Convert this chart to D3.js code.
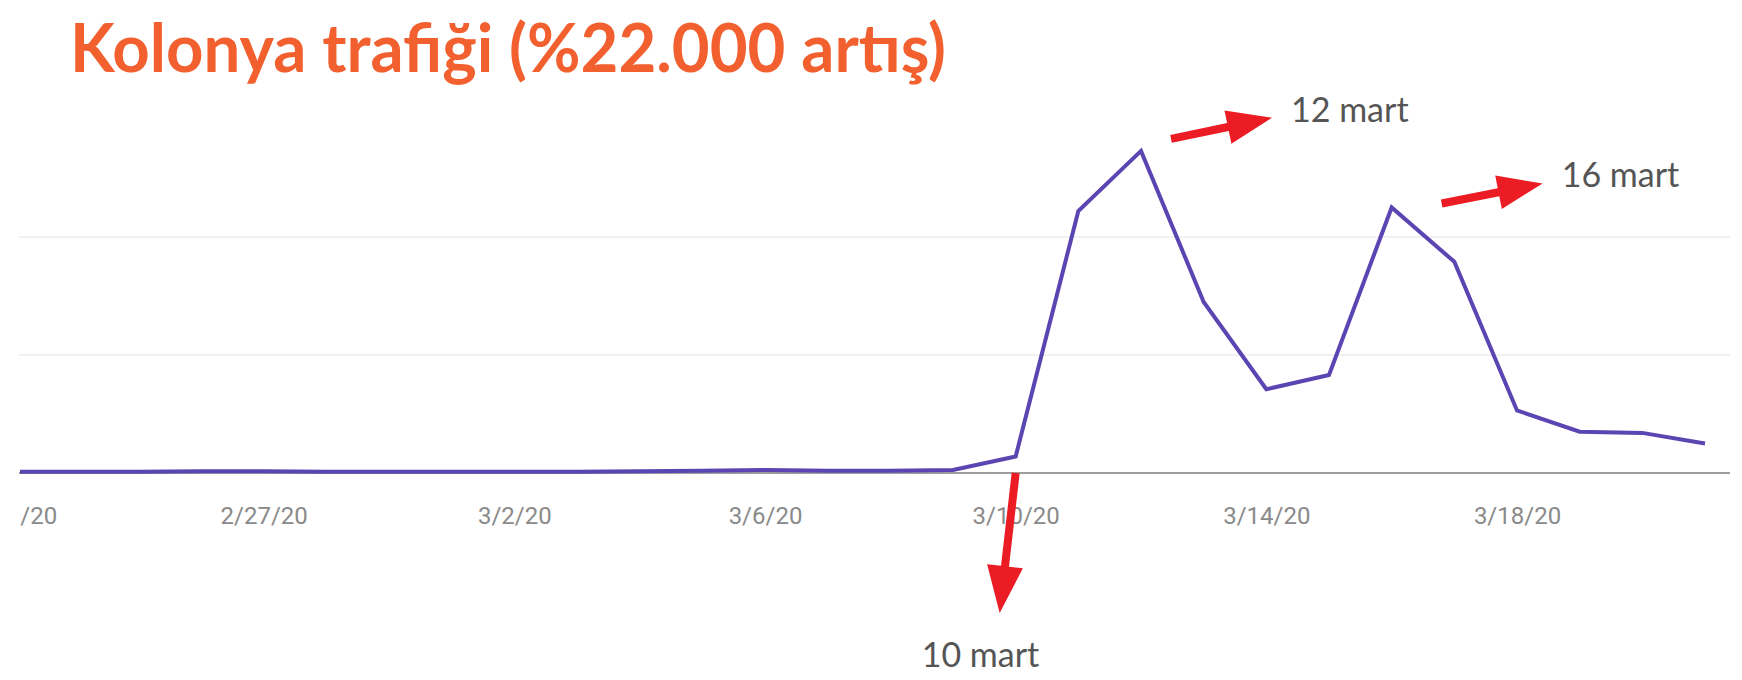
<!DOCTYPE html>
<html>
<head>
<meta charset="utf-8">
<script src="https://cdn.jsdelivr.net/npm/d3@7"></script>
<style>
  body { margin: 0; background: #fff; }
  svg { display: block; }
</style>
</head>
<body>
<svg id="chart"></svg>
<script>
// Data (index, grid step = 100)
const dates = ["2020-02-23","2020-02-24","2020-02-25","2020-02-26","2020-02-27","2020-02-28","2020-02-29",
  "2020-03-01","2020-03-02","2020-03-03","2020-03-04","2020-03-05","2020-03-06","2020-03-07","2020-03-08",
  "2020-03-09","2020-03-10","2020-03-11","2020-03-12","2020-03-13","2020-03-14","2020-03-15","2020-03-16",
  "2020-03-17","2020-03-18","2020-03-19","2020-03-20","2020-03-21"];
const traffic = [1, 1, 1, 1.5, 1.5, 1, 1, 1, 1, 1, 1.5, 2, 2.5, 2, 2, 2.5,
  14, 222, 273, 145, 71, 83, 225, 179, 53, 35, 34, 25];
const tickDates = ["2020-02-23","2020-02-27","2020-03-02","2020-03-06","2020-03-10","2020-03-14","2020-03-18"];
const gridValues = [100, 200];
const titleText = "Kolonya trafiği (%22.000 artış)";

// annotations: arrow tail/tip offsets from the data point, label next to the tip
const notes = [
  { date: "2020-03-12", label: "12 mart", tail: [30, -12], tip: [131, -33], text: [150, -29], down: false },
  { date: "2020-03-16", label: "16 mart", tail: [50, -4], tip: [151, -24], text: [170, -21], down: false },
  { date: "2020-03-10", label: "10 mart", tail: [0, 0], tip: [-16, 140], text: [-94, 194], down: true }
];

const W = 1742, H = 680;
const parse = d3.timeParse("%Y-%m-%d");
const data = dates.map((d, i) => ({ date: parse(d), value: traffic[i] }));

const svg = d3.select("#chart").attr("width", W).attr("height", H);

const plotLeft = 19, plotRight = 1730;

const x = d3.scaleTime()
    .domain([parse(dates[0]), parse(dates[dates.length - 1])])
    .range([13, 1705]);

const y = d3.scaleLinear()
    .domain([0, 300])
    .range([473, 119]);

// the original is a crop: everything left of the plot is cut away
svg.append("clipPath")
    .attr("id", "clip")
    .append("rect")
    .attr("x", plotLeft + 1)
    .attr("y", 0)
    .attr("width", plotRight - plotLeft)
    .attr("height", H);

// Title
svg.append("text")
    .attr("x", 70)
    .attr("y", 72)
    .attr("font-family", "Lato, 'Open Sans', sans-serif")
    .attr("font-weight", 700)
    .attr("font-size", 66)
    .attr("fill", "#f2602f")
    .attr("textLength", 876)
    .attr("lengthAdjust", "spacingAndGlyphs")
    .text(titleText);

// Gridlines
svg.selectAll(".grid")
    .data(gridValues)
    .enter().append("line")
    .attr("class", "grid")
    .attr("x1", plotLeft)
    .attr("x2", plotRight)
    .attr("y1", d => y(d))
    .attr("y2", d => y(d))
    .attr("stroke", "#ececec")
    .attr("stroke-width", 1.5);

// Bottom axis (labels only) + baseline
const xAxis = svg.append("g")
    .attr("clip-path", "url(#clip)")
    .append("g")
    .attr("transform", `translate(0,${y(0)})`)
    .call(d3.axisBottom(x)
        .tickValues(tickDates.map(parse))
        .tickFormat(d3.timeFormat("%-m/%-d/%y"))
        .tickSize(0)
        .tickPadding(34));
xAxis.select(".domain").remove();
xAxis.selectAll("text")
    .attr("font-family", "Roboto, sans-serif")
    .attr("font-size", 24)
    .attr("fill", "#8a8a8a");

svg.append("line")
    .attr("x1", plotLeft)
    .attr("x2", plotRight)
    .attr("y1", y(0))
    .attr("y2", y(0))
    .attr("stroke", "#9e9e9e")
    .attr("stroke-width", 2);

// Line
const line = d3.line()
    .x(d => x(d.date))
    .y(d => y(d.value));

svg.append("path")
    .datum(data)
    .attr("clip-path", "url(#clip)")
    .attr("fill", "none")
    .attr("stroke", "#5a45b2")
    .attr("stroke-width", 4)
    .attr("stroke-linejoin", "miter")
    .attr("d", line);

// Red arrows
function arrowPath(x0, y0, x1, y1, headLen, headHalf, shaftHalf) {
    const dx = x1 - x0, dy = y1 - y0;
    const len = Math.hypot(dx, dy);
    const ux = dx / len, uy = dy / len;
    const px = -uy, py = ux;
    const bx = x1 - ux * headLen, by = y1 - uy * headLen;
    const pts = [
        [x0 + px * shaftHalf, y0 + py * shaftHalf],
        [bx + px * shaftHalf, by + py * shaftHalf],
        [bx + px * headHalf, by + py * headHalf],
        [x1, y1],
        [bx - px * headHalf, by - py * headHalf],
        [bx - px * shaftHalf, by - py * shaftHalf],
        [x0 - px * shaftHalf, y0 - py * shaftHalf]
    ];
    return "M" + pts.map(p => p.join(",")).join("L") + "Z";
}

notes.forEach(n => {
    const d = data.find(p => +p.date === +parse(n.date));
    const px = x(d.date);
    const py = n.down ? y(0) : y(d.value);
    svg.append("path")
        .attr("d", arrowPath(px + n.tail[0], py + n.tail[1], px + n.tip[0], py + n.tip[1],
            n.down ? 47 : 45, n.down ? 18 : 17, 4))
        .attr("fill", "#ec1c24");
    svg.append("text")
        .attr("x", px + n.text[0])
        .attr("y", py + n.text[1])
        .attr("font-family", "Lato, 'Open Sans', sans-serif")
        .attr("font-size", 34)
        .attr("fill", "#555")
        .text(n.label);
});
</script>
</body>
</html>
